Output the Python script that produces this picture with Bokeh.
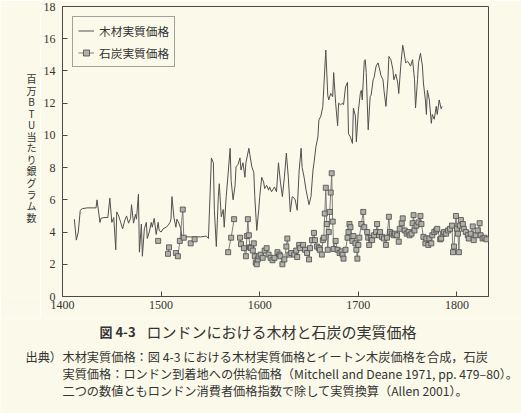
from bokeh.plotting import figure
from bokeh.models import Label, Legend, LegendItem, FixedTicker, Range1d
from bokeh.layouts import row, column
from bokeh.embed import file_html
from bokeh.resources import INLINE

wood_years = [1412, 1414, 1416, 1418, 1420, 1425, 1430, 1434, 1435, 1438, 1439, 1442, 1446, 1448,
              1450, 1452, 1454, 1455, 1457, 1459, 1461, 1463, 1465, 1467, 1469, 1470, 1472, 1474,
              1475, 1477, 1478, 1480, 1481, 1483, 1485, 1486, 1488, 1490, 1491, 1493, 1495, 1497,
              1498, 1500, 1502, 1505, 1507, 1509, 1510, 1511, 1513, 1515, 1516, 1518, 1520, 1521,
              1523, 1525, 1530, 1535, 1540, 1546, 1548, 1551, 1553, 1554, 1556, 1558, 1559, 1561,
              1563, 1564, 1566, 1568, 1570, 1571, 1573, 1575, 1576, 1578, 1580, 1581, 1583, 1585,
              1586, 1589, 1590, 1592, 1594, 1595, 1597, 1599, 1600, 1602, 1604, 1605, 1607, 1609,
              1610, 1612, 1614, 1615, 1617, 1619, 1621, 1623, 1625, 1627, 1629, 1631, 1633, 1635,
              1636, 1638, 1640, 1642, 1643, 1645, 1647, 1649, 1650, 1652, 1654, 1655, 1657, 1659,
              1660, 1662, 1664, 1665, 1667, 1669, 1670, 1672, 1674, 1675, 1677, 1679, 1680, 1682,
              1684, 1685, 1687, 1689, 1690, 1692, 1694, 1695, 1697, 1698, 1700, 1702, 1703, 1704,
              1706, 1707, 1708, 1710, 1712, 1713, 1715, 1716, 1718, 1720, 1722, 1723, 1725, 1726,
              1728, 1730, 1731, 1733, 1735, 1736, 1738, 1740, 1741, 1743, 1745, 1746, 1748, 1750,
              1751, 1753, 1755, 1757, 1758, 1760, 1761, 1763, 1765, 1766, 1768, 1769, 1770, 1772,
              1774, 1775, 1777, 1779, 1780, 1782, 1784, 1785]
wood_vals = [4.8, 3.5, 4.0, 5.35, 5.45, 5.5, 5.5, 5.5, 6.0, 4.6, 4.85, 4.9, 4.9, 6.1,
             4.6, 4.9, 2.9, 5.25, 5.0, 4.6, 4.2, 4.7, 5.0, 4.55, 4.85, 5.7, 4.55, 5.1,
             4.8, 6.35, 2.75, 4.5, 2.5, 4.2, 4.6, 3.6, 4.0, 4.6, 4.3, 4.85, 3.85, 4.6,
             4.1, 4.0, 4.2, 4.3, 4.4, 4.6, 4.8, 6.2, 4.9, 4.3, 4.8, 4.55, 4.2, 3.7,
             3.6, 3.7, 3.7, 3.7, 3.7, 3.75, 3.6, 8.6, 8.3, 5.35, 3.1, 6.2, 7.0, 4.95,
             5.4, 4.3, 6.2, 7.65, 9.2, 7.2, 6.0, 6.9, 8.05, 8.2, 8.6, 7.85, 8.3, 7.4,
             8.3, 9.2, 8.8, 8.05, 7.7, 6.2, 4.1, 5.4, 6.2, 7.4, 7.1, 6.7, 6.9, 6.6,
             6.8, 6.5, 6.7, 6.8, 6.5, 8.3, 7.1, 6.2, 7.4, 8.9, 7.4, 5.25, 6.2, 6.1,
             6.0, 5.35, 7.85, 9.2, 8.0, 7.4, 6.6, 6.0, 5.7, 6.2, 7.85, 8.27, 9.3, 9.9,
             10.95, 11.2, 11.8, 13.0, 15.3, 12.5, 12.2, 12.6, 12.4, 13.9, 12.0, 10.6, 12.0, 11.9,
             12.0, 11.9, 13.0, 13.3, 10.1, 9.9, 9.5, 11.7, 11.2, 9.6, 11.5, 12.6, 12.8, 12.2,
             14.6, 14.7, 13.9, 10.35, 12.4, 12.5, 13.45, 13.6, 14.3, 14.5, 14.0, 13.7, 13.45, 12.8,
             11.8, 13.45, 14.9, 14.7, 14.1, 13.45, 13.8, 13.25, 12.6, 14.3, 15.6, 15.3, 14.5, 14.6,
             14.5, 14.3, 14.7, 13.45, 11.7, 13.45, 14.5, 15.1, 14.3, 13.25, 12.2, 11.3, 12.8, 12.2,
             10.75, 11.3, 11.0, 11.8, 11.3, 12.2, 11.65, 11.8]

coal_years = [1497, 1507, 1508, 1515, 1517, 1519, 1522, 1523, 1530, 1534, 1568, 1571, 1574,
              1580, 1581, 1584, 1586, 1587, 1588, 1589, 1590, 1591, 1593, 1594, 1595, 1596, 1597,
              1598, 1599, 1601, 1603, 1605, 1607, 1609, 1611, 1613, 1615, 1618, 1620, 1621, 1623,
              1625, 1627, 1628, 1630, 1632, 1635, 1637, 1638, 1640, 1641, 1644, 1646, 1648, 1650,
              1651, 1653, 1655, 1656, 1658, 1660, 1661, 1663, 1664, 1665, 1666, 1667, 1668, 1669,
              1670, 1671, 1672, 1673, 1674, 1675, 1677, 1679, 1681, 1683, 1684, 1685, 1687, 1689,
              1690, 1691, 1692, 1694, 1695, 1697, 1698, 1699, 1700, 1701, 1703, 1705, 1706, 1709,
              1710, 1711, 1713, 1714, 1716, 1718, 1719, 1721, 1722, 1724, 1726, 1728, 1729, 1731,
              1732, 1734, 1736, 1737, 1739, 1741, 1742, 1744, 1745, 1747, 1749, 1751, 1752, 1754,
              1755, 1756, 1757, 1759, 1761, 1763, 1764, 1766, 1768, 1769, 1771, 1772, 1774, 1775,
              1777, 1779, 1780, 1783, 1784, 1786, 1787, 1789, 1791, 1793, 1795, 1796, 1797, 1799,
              1800, 1801, 1802, 1803, 1804, 1806, 1807, 1809, 1811, 1812, 1814, 1816, 1817, 1819,
              1821, 1823, 1824, 1826, 1828, 1830]
coal_vals = [3.45, 2.65, 3.05, 2.7, 2.5, 3.45, 5.4, 3.65, 3.3, 3.55, 2.75, 3.65, 4.8,
             3.65, 3.25, 3.0, 2.5, 3.75, 4.8, 3.8, 3.05, 3.0, 2.85, 3.3, 2.5, 2.1, 2.0,
             2.3, 2.5, 2.6, 2.4, 2.85, 3.0, 2.6, 2.4, 2.25, 2.4, 2.75, 2.6, 2.5, 2.0,
             2.3, 3.1, 3.6, 2.6, 2.7, 2.6, 2.85, 2.45, 3.2, 3.0, 3.2, 2.9, 2.7, 2.3,
             3.0, 3.5, 3.95, 3.5, 3.1, 3.0, 2.9, 2.6, 3.5, 3.65, 5.15, 6.75, 4.5, 2.9,
             4.0, 5.25, 6.45, 7.65, 4.65, 2.95, 3.45, 2.9, 2.7, 2.8, 2.6, 2.35, 2.9, 3.65,
             4.0, 4.5, 4.3, 3.45, 3.75, 3.3, 2.9, 2.35, 3.2, 3.65, 4.5, 5.25, 4.3, 4.0,
             3.65, 3.2, 3.65, 3.5, 3.8, 4.0, 4.5, 3.8, 4.0, 3.7, 3.6, 3.2, 3.65, 4.95,
             4.0, 3.9, 3.8, 3.9, 3.8, 3.4, 4.2, 4.55, 4.85, 4.1, 3.9, 4.0, 3.8, 3.9,
             4.55, 5.05, 4.1, 4.4, 4.6, 5.0, 4.5, 3.7, 3.3, 3.6, 3.2, 3.6, 3.3, 3.8,
             4.0, 4.1, 4.2, 3.55, 3.6, 3.9, 4.0, 3.9, 4.1, 4.2, 4.4, 2.75, 3.1, 5.0,
             4.2, 3.9, 2.75, 4.4, 4.75, 4.5, 4.2, 4.0, 3.8, 3.6, 3.9, 4.35, 3.5, 3.8,
             4.1, 4.55, 3.8, 3.6, 3.65, 3.55]

x_ticks = [1400, 1500, 1600, 1700, 1800]
y_ticks = [0, 2, 4, 6, 8, 10, 12, 14, 16, 18]

wood_label = "木材実質価格"
coal_label = "石炭実質価格"
y_title = "百万BTU当たり銀グラム数"
fig_no = "図 4-3"
fig_title = "ロンドンにおける木材と石炭の実質価格"
src_head = "出典）"
src_lines = [
    "木材実質価格：図 4-3 における木材実質価格とイートン木炭価格を合成，石炭",
    "実質価格：ロンドン到着地への供給価格（Mitchell and Deane 1971, pp. 479–80）。",
    "二つの数値ともロンドン消費者価格指数で除して実質換算（Allen 2001）。",
]

BG = "#fbfaea"
INK = "#4a4a4a"
TXT = "#333333"
JP = "Noto Sans CJK JP"
SERIF = "Liberation Serif"


def blank(w, h):
    f = figure(width=w, height=h, output_backend="svg", toolbar_location=None,
               x_range=Range1d(0, w), y_range=Range1d(h, 0),
               min_border=0, min_border_left=0, min_border_right=0,
               min_border_top=0, min_border_bottom=0)
    f.axis.visible = False
    f.grid.visible = False
    f.outline_line_color = None
    f.background_fill_color = BG
    f.border_fill_color = BG
    return f


# coal line broken where the record has gaps
cx, cy = [], []
for i, (yr, v) in enumerate(zip(coal_years, coal_vals)):
    if i > 0 and yr - coal_years[i - 1] > 3:
        cx.append(float("nan"))
        cy.append(float("nan"))
    cx.append(yr)
    cy.append(v)

# left strip with the vertical (tategaki) y title
left = blank(40, 318)
left.add_layout(Label(x=31, y=155, text="\n".join(y_title),
                      text_font=JP, text_font_size="10px", text_color=TXT,
                      text_align="center", text_baseline="middle", text_line_height=0.77))

p = figure(width=481, height=318, output_backend="svg", toolbar_location=None,
           x_range=Range1d(1400, 1832), y_range=Range1d(0, 18),
           min_border_left=20, min_border_right=33, min_border_top=6, min_border_bottom=22)
p.background_fill_color = BG
p.border_fill_color = BG
p.outline_line_color = INK
p.outline_line_width = 1
p.grid.visible = False

for ax in (p.xaxis, p.yaxis):
    ax.axis_line_color = INK
    ax.major_tick_line_color = INK
    ax.major_tick_in = 5
    ax.major_tick_out = 0
    ax.minor_tick_line_color = None
    ax.major_label_text_font = SERIF
    ax.major_label_text_font_size = "12px"
    ax.major_label_text_color = TXT
p.xaxis.ticker = FixedTicker(ticks=x_ticks)
p.yaxis.ticker = FixedTicker(ticks=y_ticks)
p.xaxis.major_label_standoff = 4
p.yaxis.major_label_standoff = 7

wood = p.line(wood_years, wood_vals, line_color="#505050", line_width=1)
coal_l = p.line(cx, cy, line_color="#707070", line_width=0.9)
coal_p = p.scatter(coal_years, coal_vals, marker="square", size=5,
                   fill_color="#b0b0a8", line_color="#4a4a4a", line_width=0.8)

legend = Legend(items=[LegendItem(label=wood_label, renderers=[wood]),
                       LegendItem(label=coal_label, renderers=[coal_l, coal_p])],
                location="top_left")
legend.margin = 10
legend.padding = 5
legend.spacing = 5
legend.label_text_font = JP
legend.label_text_font_size = "11.7px"
legend.label_text_color = TXT
legend.glyph_width = 16
legend.glyph_height = 15
legend.label_height = 15
legend.label_standoff = 5
legend.border_line_color = INK
legend.background_fill_color = BG
legend.background_fill_alpha = 1
p.add_layout(legend)

# caption area below the chart
cap = blank(521, 95)
cap.add_layout(Label(x=99, y=13, text=fig_no, text_font=JP, text_font_style="bold",
                     text_font_size="13px", text_color=TXT, text_baseline="middle"))
cap.add_layout(Label(x=146, y=13, text=fig_title, text_font=JP,
                     text_font_size="15px", text_color=TXT, text_baseline="middle"))
cap.add_layout(Label(x=25, y=38, text=src_head, text_font=JP, text_font_size="12.2px",
                     text_color=TXT, text_baseline="middle"))
for k, line in enumerate(src_lines):
    cap.add_layout(Label(x=62, y=38 + 17 * k, text=line, text_font=JP,
                         text_font_size="12.2px", text_color=TXT, text_baseline="middle"))

layout = column(row(left, p, spacing=0), cap, spacing=0)
open("out.html", "w").write(file_html(layout, INLINE))
